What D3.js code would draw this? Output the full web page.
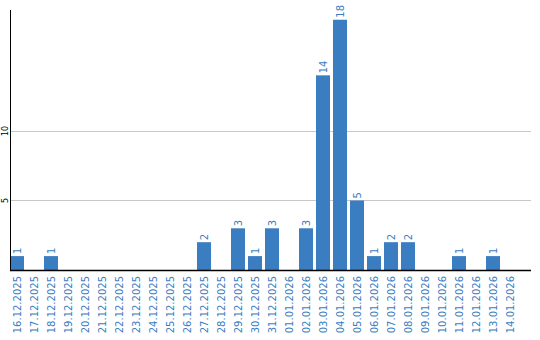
<!DOCTYPE html>
<html>
<head>
<meta charset="utf-8">
<script src="https://cdn.jsdelivr.net/npm/d3@7"></script>
<style>
  html, body { margin: 0; padding: 0; background: #fff; }
  svg { display: block; }
</style>
</head>
<body>
<svg id="chart" width="540" height="340"></svg>
<script>
const dates = ["16.12.2025","17.12.2025","18.12.2025","19.12.2025","20.12.2025","21.12.2025","22.12.2025","23.12.2025","24.12.2025","25.12.2025","26.12.2025","27.12.2025","28.12.2025","29.12.2025","30.12.2025","31.12.2025","01.01.2026","02.01.2026","03.01.2026","04.01.2026","05.01.2026","06.01.2026","07.01.2026","08.01.2026","09.01.2026","10.01.2026","11.01.2026","12.01.2026","13.01.2026","14.01.2026"];
const counts = [1,0,1,0,0,0,0,0,0,0,0,2,0,3,1,3,0,3,14,18,5,1,2,2,0,0,1,0,1,0];
const yTicks = [5, 10];

const svg = d3.select("#chart");
const blue = "#3a7dc1";
const font = "DejaVu Sans, Verdana, sans-serif";

const x = d3.scaleBand().domain(dates).range([10, 517]).paddingInner(3/17).paddingOuter(0);
const y = d3.scaleLinear().domain([0, 18.7]).range([270, 10]);

// gridlines
svg.append("g").selectAll("line").data(yTicks).join("line")
  .attr("x1", 11).attr("x2", 531)
  .attr("y1", d => Math.round(y(d)) + 0.5).attr("y2", d => Math.round(y(d)) + 0.5)
  .attr("stroke", "#c8c8c8").attr("stroke-width", 1);

// y tick labels
svg.append("g").selectAll("text").data(yTicks).join("text")
  .attr("transform", d => `translate(8,${y(d)}) rotate(-90)`)
  .attr("text-anchor", "middle")
  .attr("font-family", font).attr("font-size", 8).attr("fill", "#000")
  .text(d => d);

// bars
const data = dates.map((d, i) => ({date: d, v: counts[i]}));
svg.append("g").selectAll("rect").data(data.filter(d => d.v > 0)).join("rect")
  .attr("x", d => x(d.date)).attr("width", x.bandwidth())
  .attr("y", d => y(d.v)).attr("height", d => y(0) - y(d.v))
  .attr("fill", blue);

// value labels
svg.append("g").selectAll("text").data(data.filter(d => d.v > 0)).join("text")
  .attr("transform", d => `translate(${x(d.date) + x.bandwidth()/2},${y(d.v) - 2}) rotate(-90)`)
  .attr("text-anchor", "start").attr("dy", "0.36em")
  .attr("font-family", font).attr("font-size", 10).attr("fill", blue)
  .text(d => d.v);

// x tick labels
svg.append("g").selectAll("text").data(dates).join("text")
  .attr("transform", d => `translate(${x(d) + x.bandwidth()/2},276) rotate(-90)`)
  .attr("text-anchor", "end").attr("dy", "0.36em")
  .attr("font-family", font).attr("font-size", 10).attr("fill", blue)
  .text(d => d);

// axes lines
svg.append("line").attr("x1", 10.5).attr("x2", 10.5).attr("y1", 10).attr("y2", 270)
  .attr("stroke", "#000").attr("stroke-width", 1);
svg.append("line").attr("x1", 10).attr("x2", 531).attr("y1", 270.5).attr("y2", 270.5)
  .attr("stroke", "#000").attr("stroke-width", 1.5);
</script>
</body>
</html>
